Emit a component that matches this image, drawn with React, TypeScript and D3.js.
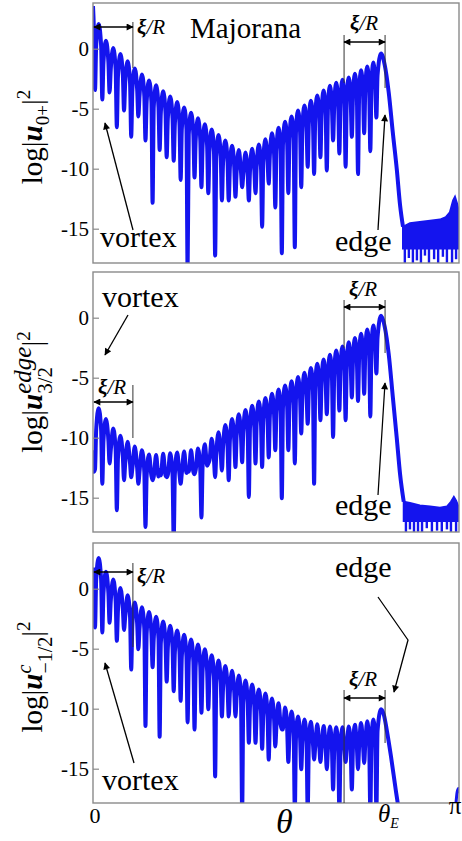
import React from 'react';
import * as d3 from 'd3';

// θ/π positions of the nodes (zeros) of the oscillating wavefunction
const nodes = [0.0055,0.0254,0.0453,0.0651,0.0848,0.1044,0.1239,0.1434,0.1628,0.1821,0.2013,0.2205,0.2395,0.2585,0.2774,0.2963,0.3150,0.3337,0.3522,0.3708,0.3892,0.4075,0.4258,0.4440,0.4621,0.4801,0.4981,0.5159,0.5337,0.5514,0.5690,0.5866,0.6041,0.6214,0.6388,0.6560,0.6731,0.6902,0.7072,0.7241,0.7409,0.7577,0.7743];

// u_{0+} (Majorana)
const start1 = 3.6;
const crest1 = [2.1,0.7,0.1,-0.4,-1.0,-1.6,-2.1,-2.6,-3.0,-3.5,-3.95,-4.4,-4.85,-5.3,-5.75,-6.25,-6.7,-7.15,-7.6,-8.05,-8.4,-8.6,-8.3,-7.95,-7.5,-7.0,-6.55,-6.05,-5.6,-5.1,-4.7,-4.3,-3.85,-3.45,-3.05,-2.8,-2.55,-2.35,-2.05,-1.75,-1.45,-1.1];
const trough1 = [-3.4,-4.2,-3.6,-6.5,-5.1,-7.3,-5.6,-7.6,-12.8,-8.4,-9.0,-9.3,-10.9,-18.5,-10.7,-11.5,-12.0,-17.2,-12.6,-12.6,-12.3,-11.5,-12.6,-12.0,-14.8,-11.2,-13.2,-17.0,-12.0,-16.5,-11.5,-9.8,-10.4,-9.0,-10.1,-7.6,-8.7,-9.8,-7.3,-10.4,-7.0,-8.5,-5.7];
const edge1: [number, number][] = [[0.787,-0.35],[0.797,-1.3],[0.808,-3.6],[0.819,-6.9],[0.830,-10.0],[0.839,-13.0],[0.847,-14.8]];
const tailTop1: [number, number][] = [[0.847,-14.8],[0.866,-14.5],[0.893,-14.4],[0.921,-14.3],[0.948,-14.2],[0.964,-14.0],[0.975,-13.6],[0.984,-12.6],[0.989,-12.3],[0.995,-12.9],[1.0,-13.6]];
const tailFloor1 = -16.6;
const tailSpikeAt1 = [0.852,0.863,0.874,0.885,0.896,0.907,0.918,0.932,0.943,0.956,0.967,0.981,0.992];
const tailSpike1 = [-18.5,-17.4,-18.5,-17.6,-18.5,-17.2,-18.5,-17.5,-18.5,-17.3,-17.8,-18.5,-17.5];

// u^{edge}_{3/2}
const start2 = -11.0;
const crest2 = [-7.5,-8.4,-9.2,-9.8,-10.3,-10.7,-11.0,-11.35,-11.4,-11.3,-11.25,-11.2,-11.1,-11.0,-10.85,-10.5,-10.05,-9.5,-8.9,-8.4,-8.0,-7.65,-7.3,-6.95,-6.65,-6.3,-5.95,-5.6,-5.25,-4.9,-4.55,-4.15,-3.8,-3.45,-3.05,-2.7,-2.35,-2.0,-1.65,-1.3,-0.95,-0.6];
const trough2 = [-12.6,-13.8,-12.1,-16.0,-13.5,-13.25,-13.8,-17.4,-13.5,-12.7,-13.25,-18.5,-13.8,-12.7,-13.0,-16.6,-12.1,-13.25,-12.7,-13.5,-12.4,-12.0,-14.9,-12.1,-12.4,-11.6,-11.0,-15.0,-11.0,-12.1,-9.6,-8.8,-13.8,-8.5,-8.0,-9.9,-7.7,-8.5,-6.6,-6.9,-6.3,-8.2,-4.6];
const edge2: [number, number][] = [[0.787,0.2],[0.797,-0.7],[0.808,-3.0],[0.819,-6.5],[0.830,-10.0],[0.839,-13.0],[0.849,-15.3]];
const tailTop2: [number, number][] = [[0.849,-15.3],[0.866,-15.4],[0.893,-15.6],[0.921,-15.7],[0.948,-15.8],[0.967,-15.7],[0.978,-15.3],[0.986,-14.9],[0.992,-15.2],[1.0,-15.8]];
const tailFloor2 = -16.9;
const tailSpikeAt2 = [0.855,0.866,0.877,0.888,0.899,0.912,0.926,0.940,0.953,0.967,0.978,0.992];
const tailSpike2 = [-18.5,-17.6,-18.5,-17.8,-18.5,-17.5,-18.5,-17.7,-18.5,-17.6,-18.5,-18.5];

// u^{c}_{-1/2}
const start3 = 1.8;
const crest3 = [2.6,1.45,0.8,0.1,-0.5,-1.1,-1.5,-1.9,-2.3,-2.7,-3.05,-3.45,-3.8,-4.2,-4.6,-5.0,-5.5,-5.95,-6.4,-6.8,-7.2,-7.6,-7.95,-8.35,-8.7,-9.1,-9.5,-9.85,-10.2,-10.6,-10.85,-11.05,-11.25,-11.4,-11.45,-11.5,-11.5,-11.45,-11.3,-11.15,-11.0,-10.85];
const trough3 = [-3.2,-3.6,-2.8,-4.3,-3.4,-6.7,-5.0,-11.4,-6.5,-12.3,-7.7,-8.5,-9.3,-11.1,-11.7,-10.3,-10.0,-15.6,-10.6,-10.6,-10.6,-18.5,-12.8,-12.8,-13.3,-14.2,-13.1,-11.7,-14.4,-18.5,-15.0,-18.5,-14.2,-14.4,-15.0,-16.7,-18.5,-14.4,-16.7,-15.0,-14.5,-18.5,-18.5];
const edge3: [number, number][] = [[0.787,-10.0],[0.795,-10.5],[0.803,-11.8],[0.814,-13.9],[0.828,-16.9],[0.836,-18.5]];
const tailTop3: [number, number][] = [[0.990,-18.5],[0.995,-16.9],[0.9986,-16.6],[1.0,-17.0]];

const yTicks = [0, -5, -10, -15];
const yTickLabels = ['0', '-5', '-10', '-15'];

const W = 462;
const H = 841;
const LEFT = 93;
const RIGHT = 459;
const PANEL_H = 260;
const Y_TOP = 3.85;
const Y_BOTTOM = Y_TOP - PANEL_H / 12;
const BLUE = '#1414ee';
const SERIF = "'Liberation Serif', 'Times New Roman', Times, serif";

const x = d3.scaleLinear().domain([0, 1]).range([LEFT, RIGHT]);

function buildCurve(start: number, crest: number[], trough: number[], edge: [number, number][]) {
  const w = 0.0032;
  const drop = 1.8;
  const pts: [number, number][] = [[0, start]];
  for (let i = 0; i < nodes.length; i++) {
    const left = i === 0 ? start : crest[i - 1];
    const right = i < crest.length ? crest[i] : edge[0][1];
    pts.push([nodes[i] - w, left - drop], [nodes[i], trough[i]], [nodes[i] + w, right - drop]);
    if (i < crest.length) pts.push([(nodes[i] + nodes[i + 1]) / 2, crest[i]]);
  }
  edge.forEach((p) => pts.push(p));
  return pts;
}

type Panel = {
  top: number;
  start: number;
  crest: number[];
  trough: number[];
  edge: [number, number][];
  tailTop: [number, number][];
  tailFloor?: number;
  spikeAt?: number[];
  spike?: number[];
};

const panels: Panel[] = [
  { top: 3, start: start1, crest: crest1, trough: trough1, edge: edge1, tailTop: tailTop1, tailFloor: tailFloor1, spikeAt: tailSpikeAt1, spike: tailSpike1 },
  { top: 272, start: start2, crest: crest2, trough: trough2, edge: edge2, tailTop: tailTop2, tailFloor: tailFloor2, spikeAt: tailSpikeAt2, spike: tailSpike2 },
  { top: 543, start: start3, crest: crest3, trough: trough3, edge: edge3, tailTop: tailTop3 },
];

function Xi({ x: tx, y, anchor = 'start' }: { x: number; y: number; anchor?: string }) {
  return (
    <text x={tx} y={y} fontSize={21} fontStyle="italic" textAnchor={anchor}>
      <tspan fontWeight="bold">ξ</tspan>
      <tspan>/R</tspan>
    </text>
  );
}

function PanelView({ p, idx }: { p: Panel; idx: number }) {
  const y = d3.scaleLinear().domain([Y_BOTTOM, Y_TOP]).range([p.top + PANEL_H, p.top]);
  const line = d3
    .line<[number, number]>()
    .x((d) => x(d[0]))
    .y((d) => y(d[1]))
    .curve(d3.curveMonotoneX);
  const pts = buildCurve(p.start, p.crest, p.trough, p.edge);
  const clipId = `clip${idx}`;
  let tail: React.ReactNode = null;
  if (p.tailFloor !== undefined) {
    const area = d3
      .area<[number, number]>()
      .x((d) => x(d[0]))
      .y0(y(p.tailFloor))
      .y1((d) => y(d[1]));
    tail = (
      <g>
        <path d={area(p.tailTop) || ''} fill={BLUE} stroke={BLUE} strokeWidth={2} />
        {p.spikeAt!.map((t, i) => (
          <line key={i} x1={x(t)} x2={x(t)} y1={y(p.tailFloor!)} y2={y(p.spike![i])} stroke={BLUE} strokeWidth={2.4} />
        ))}
      </g>
    );
  } else {
    tail = <path d={line(p.tailTop) || ''} fill="none" stroke={BLUE} strokeWidth={3} />;
  }
  return (
    <g>
      <defs>
        <clipPath id={clipId}>
          <rect x={LEFT} y={p.top} width={RIGHT - LEFT} height={PANEL_H} />
        </clipPath>
      </defs>
      <g clipPath={`url(#${clipId})`}>
        <path d={line(pts) || ''} fill="none" stroke={BLUE} strokeWidth={4} strokeLinejoin="round" />
        {tail}
      </g>
      <rect x={LEFT} y={p.top} width={RIGHT - LEFT} height={PANEL_H} fill="none" stroke="#8a8a8a" strokeWidth={1.4} />
      {yTicks.map((v, i) => (
        <g key={v}>
          <line x1={LEFT} x2={LEFT + 6} y1={y(v)} y2={y(v)} stroke="#8a8a8a" strokeWidth={1.2} />
          <text x={LEFT - 4} y={y(v) + 7} fontSize={21} textAnchor="end">
            {yTickLabels[i]}
          </text>
        </g>
      ))}
    </g>
  );
}

export default function App() {
  const arrow = 'url(#ah)';
  const ann = { stroke: '#000', strokeWidth: 1.3, fill: 'none' } as const;
  const thin = { stroke: '#333', strokeWidth: 1, fill: 'none' } as const;
  const big = { fontSize: 30 } as const;
  return (
    <svg
      width={W}
      height={H}
      fontFamily={SERIF}
      style={{ position: 'absolute', left: 0, top: 0, background: '#fff', fontFamily: SERIF }}
    >
      <defs>
        <marker id="ah" viewBox="0 0 10 10" refX="9" refY="5" markerWidth="9" markerHeight="7" markerUnits="userSpaceOnUse" orient="auto-start-reverse">
          <path d="M0,0 L10,5 L0,10 z" fill="#000" />
        </marker>
      </defs>
      <rect x={0} y={0} width={W} height={H} fill="#fff" />
      {panels.map((p, i) => (
        <PanelView key={i} p={p} idx={i} />
      ))}

      {/* Panel 1 annotations */}
      <text x={190} y={38} fontSize={29}>Majorana</text>
      <line x1={x(0.109)} x2={x(0.109)} y1={22} y2={68} {...thin} />
      <line x1={x(0) + 1} x2={x(0.109)} y1={27} y2={27} {...ann} markerStart={arrow} markerEnd={arrow} />
      <Xi x={137} y={34} />
      <line x1={x(0.686)} x2={x(0.686)} y1={35} y2={83} {...thin} />
      <line x1={x(0.798)} x2={x(0.798)} y1={35} y2={88} {...thin} />
      <line x1={x(0.686)} x2={x(0.798)} y1={42} y2={42} {...ann} markerStart={arrow} markerEnd={arrow} />
      <Xi x={364} y={30} anchor="middle" />
      <text x={100} y={247} {...big}>vortex</text>
      <line x1={133} y1={230} x2={105} y2={123} {...ann} markerEnd={arrow} />
      <text x={335} y={251} {...big}>edge</text>
      <line x1={378} y1={230} x2={385} y2={115} {...ann} markerEnd={arrow} />

      {/* Panel 2 annotations */}
      <text x={102} y={307} {...big}>vortex</text>
      <line x1={128} y1={315} x2={105} y2={355} {...ann} markerEnd={arrow} />
      <line x1={x(0.109)} x2={x(0.109)} y1={385} y2={438} {...thin} />
      <line x1={x(0) + 1} x2={x(0.109)} y1={402} y2={402} {...ann} markerStart={arrow} markerEnd={arrow} />
      <Xi x={98} y={394} />
      <line x1={x(0.686)} x2={x(0.686)} y1={300} y2={348} {...thin} />
      <line x1={x(0.798)} x2={x(0.798)} y1={300} y2={353} {...thin} />
      <line x1={x(0.686)} x2={x(0.798)} y1={307} y2={307} {...ann} markerStart={arrow} markerEnd={arrow} />
      <Xi x={363} y={296} anchor="middle" />
      <text x={335} y={515} {...big}>edge</text>
      <line x1={378} y1={495} x2={385} y2={383} {...ann} markerEnd={arrow} />

      {/* Panel 3 annotations */}
      <line x1={x(0.109)} x2={x(0.109)} y1={563} y2={647} {...thin} />
      <line x1={x(0) + 1} x2={x(0.109)} y1={572} y2={572} {...ann} markerStart={arrow} markerEnd={arrow} />
      <Xi x={137} y={583} />
      <text x={102} y={790} {...big}>vortex</text>
      <line x1={134} y1={763} x2={105} y2={663} {...ann} markerEnd={arrow} />
      <line x1={x(0.686)} x2={x(0.686)} y1={690} y2={803} {...thin} />
      <line x1={x(0.798)} x2={x(0.798)} y1={690} y2={743} {...thin} />
      <line x1={x(0.686)} x2={x(0.798)} y1={698} y2={698} {...ann} markerStart={arrow} markerEnd={arrow} />
      <Xi x={363} y={686} anchor="middle" />
      <text x={335} y={577} {...big}>edge</text>
      <polyline points="378,597 408,640 394,692" {...ann} markerEnd={arrow} />

      {/* Y axis titles */}
      <g transform="translate(42,137) rotate(-90)">
        <text textAnchor="middle" fontSize={29}>
          <tspan>log|</tspan>
          <tspan fontStyle="italic" fontWeight="bold">u</tspan>
          <tspan fontSize={19} dy={7}>0+</tspan>
          <tspan dy={-7}>|</tspan>
          <tspan fontSize={19} dy={-12}>2</tspan>
        </text>
      </g>
      <g transform="translate(42,392) rotate(-90)">
        <text textAnchor="middle" fontSize={29}>
          <tspan>log|</tspan>
          <tspan fontStyle="italic" fontWeight="bold">u</tspan>
          <tspan fontSize={25} fontStyle="italic" dy={-11}>edge</tspan>
          <tspan fontSize={21} dx={-47.2} dy={21}>3/2</tspan>
          <tspan dx={20.4} dy={-10}>|</tspan>
          <tspan fontSize={19} dy={-12}>2</tspan>
        </text>
      </g>
      <g transform="translate(42,677) rotate(-90)">
        <text textAnchor="middle" fontSize={29}>
          <tspan>log|</tspan>
          <tspan fontStyle="italic" fontWeight="bold">u</tspan>
          <tspan fontSize={20} fontStyle="italic" dy={-11}>c</tspan>
          <tspan fontSize={20} dx={-8.9} dy={21}>−1/2</tspan>
          <tspan dy={-10}>|</tspan>
          <tspan fontSize={19} dy={-12}>2</tspan>
        </text>
      </g>

      {/* X axis labels */}
      <text x={x(0) + 2} y={823} fontSize={22} textAnchor="middle">0</text>
      <text x={276} y={833} fontSize={34} fontStyle="italic">θ</text>
      <text x={378} y={822} fontSize={25} fontStyle="italic">
        <tspan>θ</tspan>
        <tspan fontSize={14} dy={6}>E</tspan>
      </text>
      <text x={455} y={814} fontSize={25} textAnchor="middle">π</text>
    </svg>
  );
}
